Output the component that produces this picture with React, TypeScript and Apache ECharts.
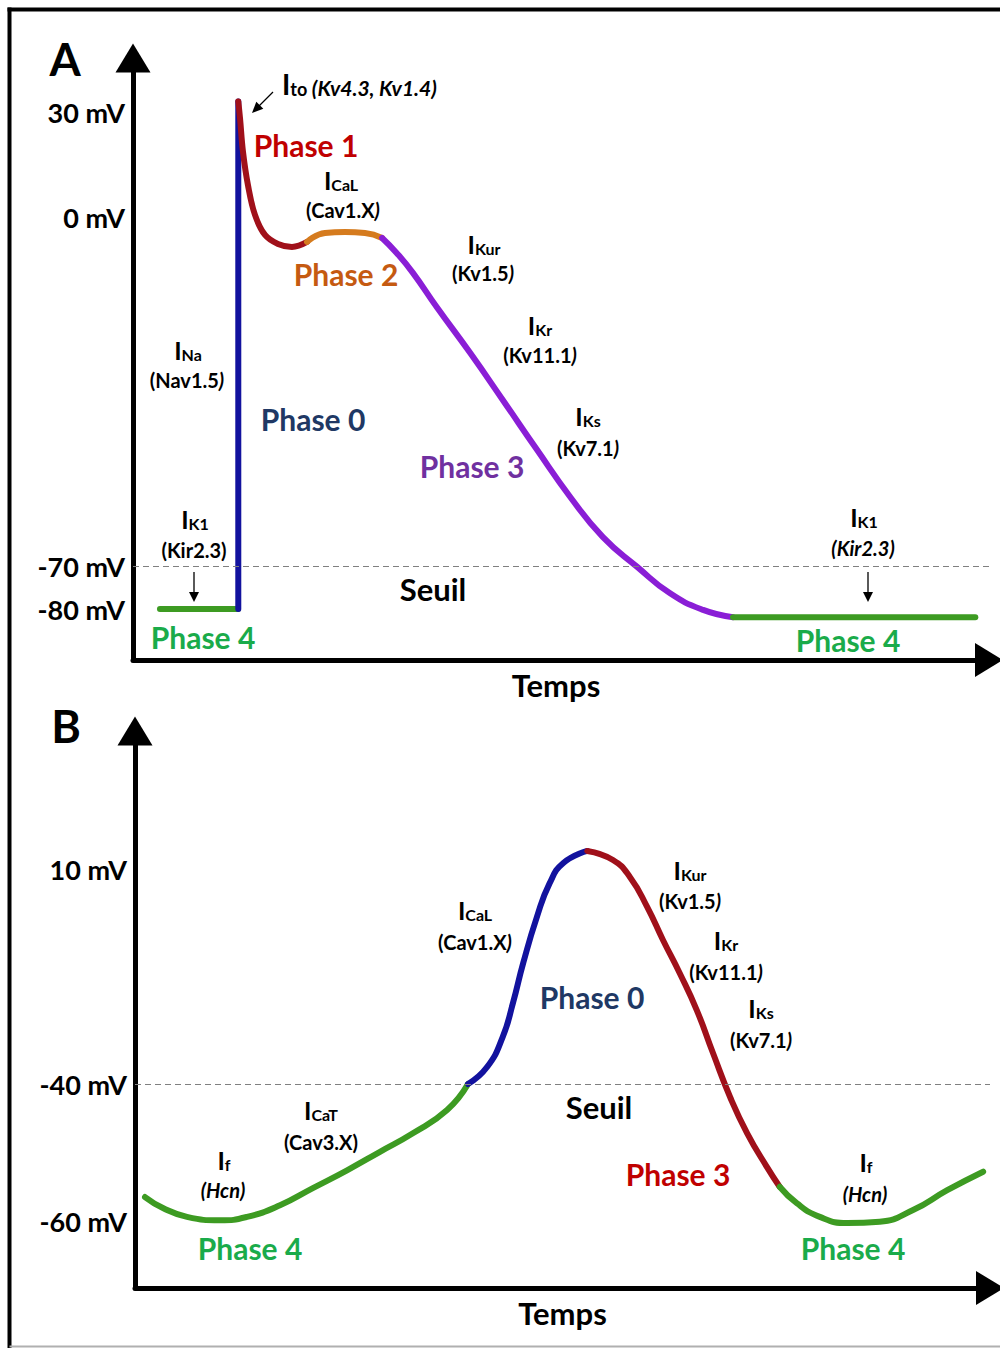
import React, { useEffect, useRef } from 'react';
import * as echarts from 'echarts';

const FONT = 'Lato';

// ---------- Panel A : ventricular action potential ----------
// voltage ticks (the drawing uses a non-linear voltage axis)
const A_TICK_MV = [-80, -70, 0, 30];
const A_TICK_LABELS = ['-80 mV', '-70 mV', '0 mV', '30 mV'];
const A_TICK_LEVEL = [51, 94, 443, 548]; // where each tick sits on the drawn axis scale
const A_LEVEL_MAX = 602;
const A_THRESHOLD_MV = -70;

// [time (a.u.), mV]
const A_PHASE4_LEFT = [[3.15, -80], [12.27, -80]];
const A_PHASE0 = [[12.3, -80], [12.3, 33]];
const A_PHASE1 = [[12.3, 33], [12.5, 28.3], [12.85, 18.6], [13.43, 9.1], [14.25, 0.6], [15.42, -3.6], [16.94, -5.4], [18.57, -6.0], [20.33, -5.0]];
const A_PHASE2 = [[20.33, -5.0], [22.43, -3.2], [24.77, -3.0], [27.1, -3.2], [29.1, -4.2]];
const A_PHASE3 = [[29.1, -4.2], [30.8, -7.2], [32.7, -11.2], [35.5, -18.1], [39.4, -27.3], [43.2, -36.7], [47.2, -46.7], [51.1, -56.2], [54.9, -64.2], [58.9, -70.2], [62.7, -76.3], [66.6, -80.2], [70.1, -81.9]];
const A_PHASE4_RIGHT = [[70.1, -81.9], [98.4, -81.9]];

// ---------- Panel B : nodal (pacemaker) action potential ----------
const B_TICK_MV = [-60, -40, 10];
const B_TICK_LABELS = ['-60 mV', '-40 mV', '10 mV'];
const B_TICK_LEVEL = [67, 204, 419];
const B_LEVEL_MAX = 557;
const B_THRESHOLD_MV = -40;

const B_PHASE4_LEFT = [[1.17, -56.5], [3.27, -58.1], [6.08, -59.4], [9.94, -59.9], [13.1, -59.4], [16.96, -57.7], [20.8, -55.2], [24.8, -52.6], [28.65, -49.9], [32.5, -47.2], [36.5, -43.8], [38.95, -40]];
const B_PHASE0 = [[38.95, -40], [41.2, -36.0], [43.0, -29.1], [44.2, -21.2], [45.4, -11.9], [47.0, -1.2], [48.5, 6.7], [50.1, 11.4], [52.9, 14.2]];
const B_PHASE3 = [[52.9, 14.2], [55.9, 12.1], [57.9, 8.1], [59.9, 1.2], [61.75, -6.5], [63.7, -14.2], [65.7, -22.8], [67.6, -32.8], [69.6, -41.9], [71.6, -47.2], [73.9, -52.1], [75.4, -55.0]];
const B_PHASE4_RIGHT = [[75.4, -55.0], [77.4, -57.4], [80.1, -59.4], [83.3, -60.3], [87.1, -60.1], [91.0, -58.4], [95.0, -55.5], [99.2, -52.8]];

const C = {
  blue: '#12129e',
  red: '#a0101a',
  orange: '#d57b1e',
  purple: '#8a1ed6',
  green: '#3d9b22',
  txtRed: '#c00000',
  txtOrange: '#c55a11',
  txtNavy: '#203864',
  txtPurple: '#7030a0',
  txtGreen: '#1aab4a',
};

const PH = 30; // phase label size

function toLevel(mv: number, ticks: number[], levels: number[]) {
  let i = 0;
  if (mv <= ticks[0]) i = 0;
  else if (mv >= ticks[ticks.length - 1]) i = ticks.length - 2;
  else {
    while (mv > ticks[i + 1]) i++;
  }
  const t0 = ticks[i], t1 = ticks[i + 1];
  return levels[i] + ((mv - t0) * (levels[i + 1] - levels[i])) / (t1 - t0);
}

function lineSeries(data: number[][], color: string, idx: number, ticks: number[], levels: number[], extra: any = {}) {
  return {
    type: 'line',
    xAxisIndex: idx,
    yAxisIndex: idx,
    data: data.map(([t, mv]) => [t, toLevel(mv, ticks, levels)]),
    smooth: 0.5,
    symbol: 'none',
    showSymbol: false,
    silent: true,
    lineStyle: { color, width: 6, cap: 'round', join: 'round' },
    ...extra,
  };
}

function threshold(mv: number, ticks: number[], levels: number[]) {
  return {
    silent: true,
    symbol: ['none', 'none'],
    label: { show: false },
    lineStyle: { color: '#808080', width: 1, type: [6, 4] },
    data: [{ yAxis: toLevel(mv, ticks, levels) }],
  };
}

function xAxisDef(gridIndex: number, shiftPad: number) {
  return {
    gridIndex,
    type: 'value',
    min: 0,
    max: 100,
    name: 'Temps',
    nameLocation: 'middle',
    nameGap: 9,
    nameTextStyle: { fontSize: 31, fontWeight: 'bold', color: '#000', fontFamily: FONT, verticalAlign: 'top', padding: [0, shiftPad, 0, 0] },
    axisLine: { show: true, lineStyle: { color: '#000', width: 5 }, symbol: ['none', 'triangle'], symbolSize: [34, 28] },
    axisTick: { show: false },
    axisLabel: { show: false },
    splitLine: { show: false },
  };
}

function yAxisDef(gridIndex: number, ticks: number[], labels: string[], levels: number[], max: number) {
  const vals = ticks.map((mv) => toLevel(mv, ticks, levels));
  return {
    gridIndex,
    type: 'value',
    min: 0,
    max,
    axisLine: { show: true, lineStyle: { color: '#000', width: 5 }, symbol: ['none', 'triangle'], symbolSize: [35, 29] },
    axisTick: { show: false },
    splitLine: { show: false },
    axisLabel: {
      show: true,
      customValues: vals,
      margin: 8,
      fontSize: 27,
      fontWeight: 'bold',
      color: '#000',
      fontFamily: FONT,
      formatter: (v: number) => {
        const i = vals.findIndex((l) => Math.abs(l - v) < 0.5);
        return i >= 0 ? labels[i] : '';
      },
    },
  };
}

const base = { fontFamily: FONT, fontWeight: 'bold', fill: '#000' };

function txt(x: number, y: number, text: string, fontSize: number, fill = '#000') {
  return {
    type: 'text', x, y, z: 50, silent: true,
    style: { ...base, text, fontSize, fill, align: 'center', verticalAlign: 'middle' },
  };
}

function chan(x: number, y: number, sub: string, big = 25, small = 16) {
  return {
    type: 'text', x, y, z: 50, silent: true,
    style: {
      text: `{a|I}{b|${sub}}`,
      align: 'center',
      verticalAlign: 'middle',
      rich: {
        a: { ...base, fontSize: big, lineHeight: big, verticalAlign: 'bottom' },
        b: { ...base, fontSize: small, lineHeight: small + 1, verticalAlign: 'bottom' },
      },
    },
  };
}

// gene label: regular part + italic part
function gene(x: number, y: number, reg: string, ital: string, size = 20) {
  const parts = [];
  if (reg) parts.push(`{r|${reg}}`);
  if (ital) parts.push(`{i|${ital}}`);
  return {
    type: 'text', x, y, z: 50, silent: true,
    style: {
      text: parts.join(''),
      align: 'center',
      verticalAlign: 'middle',
      rich: {
        r: { ...base, fontSize: size },
        i: { ...base, fontSize: size, fontStyle: 'italic' },
      },
    },
  };
}

function downArrow(x: number, y1: number, y2: number) {
  return [
    { type: 'line', z: 50, silent: true, shape: { x1: x, y1, x2: x, y2: y2 - 9 }, style: { stroke: '#000', lineWidth: 1.3 } },
    { type: 'polygon', z: 50, silent: true, shape: { points: [[x, y2], [x - 5, y2 - 10], [x + 5, y2 - 10]] }, style: { fill: '#000' } },
  ];
}

export default function App() {
  const ref = useRef<HTMLDivElement>(null);

  useEffect(() => {
    if (!ref.current) return;
    const chart = echarts.init(ref.current, null, { renderer: 'svg' });

    const graphics: any[] = [
      // frame
      { type: 'line', silent: true, shape: { x1: 7.5, y1: 9.5, x2: 1000, y2: 9.5 }, style: { stroke: '#000', lineWidth: 4 } },
      { type: 'line', silent: true, shape: { x1: 9.5, y1: 7.5, x2: 9.5, y2: 1348 }, style: { stroke: '#000', lineWidth: 4 } },
      { type: 'line', silent: true, shape: { x1: 9.5, y1: 1346.5, x2: 1000, y2: 1346.5 }, style: { stroke: '#b0b0b0', lineWidth: 2 } },
      txt(65, 59, 'A', 45),
      txt(66, 726, 'B', 45),

      // Panel A annotations
      {
        type: 'text', x: 282, y: 84, z: 50, silent: true,
        style: {
          text: '{a|I}{b|to}{i| (Kv4.3, Kv1.4)}',
          align: 'left', verticalAlign: 'middle',
          rich: {
            a: { ...base, fontSize: 28, lineHeight: 28, verticalAlign: 'bottom' },
            b: { ...base, fontSize: 18, lineHeight: 20, verticalAlign: 'bottom' },
            i: { ...base, fontSize: 21, lineHeight: 23, fontStyle: 'italic', verticalAlign: 'bottom' },
          },
        },
      },
      { type: 'line', z: 50, silent: true, shape: { x1: 273, y1: 92, x2: 258, y2: 107 }, style: { stroke: '#000', lineWidth: 1.3 } },
      { type: 'polygon', z: 50, silent: true, shape: { points: [[252, 113], [263.3, 108.7], [256.3, 101.7]] }, style: { fill: '#000' } },
      txt(306, 145, 'Phase 1', PH, C.txtRed),
      chan(341, 180, 'CaL'),
      gene(343, 210, '(Cav1.X', ')'),
      txt(346, 274, 'Phase 2', PH, C.txtOrange),
      chan(484, 244, 'Kur'),
      gene(483, 273, '(Kv1.5', ')'),
      chan(540, 325, 'Kr'),
      gene(540, 355, '(Kv11.1', ')'),
      chan(588, 416, 'Ks'),
      gene(588, 448, '(Kv7.1', ')'),
      txt(472, 466, 'Phase 3', PH, C.txtPurple),
      txt(313, 419, 'Phase 0', PH, C.txtNavy),
      chan(188, 350, 'Na'),
      gene(187, 380, '(Nav1.5', ')'),
      chan(195, 519, 'K1'),
      gene(194, 550, '(Kir2.3)', ''),
      ...downArrow(194, 572, 602),
      txt(203, 637, 'Phase 4', PH, C.txtGreen),
      txt(433, 589, 'Seuil', 31),
      chan(864, 517, 'K1'),
      gene(863, 548, '', '(Kir2.3)'),
      ...downArrow(868, 572, 602),
      txt(848, 640, 'Phase 4', PH, C.txtGreen),

      // Panel B annotations
      chan(475, 910, 'CaL'),
      gene(475, 942, '(Cav1.X', ')'),
      txt(592, 997, 'Phase 0', PH, C.txtNavy),
      chan(690, 870, 'Kur'),
      gene(690, 901, '(Kv1.5', ')'),
      chan(726, 940, 'Kr'),
      gene(726, 972, '(Kv11.1', ')'),
      chan(761, 1008, 'Ks'),
      gene(761, 1040, '(Kv7.1', ')'),
      txt(599, 1107, 'Seuil', 31),
      txt(678, 1174, 'Phase 3', PH, C.txtRed),
      chan(321, 1110, 'CaT'),
      gene(321, 1142, '(Cav3.X)', ''),
      chan(224, 1160, 'f'),
      gene(223, 1190, '', '(Hcn)'),
      txt(250, 1248, 'Phase 4', PH, C.txtGreen),
      chan(866, 1162, 'f'),
      gene(865, 1194, '', '(Hcn)'),
      txt(853, 1248, 'Phase 4', PH, C.txtGreen),
    ];

    const option: any = {
      animation: false,
      backgroundColor: '#fff',
      grid: [
        { left: 133, top: 58, width: 856, height: 602, containLabel: false },
        { left: 135, top: 731, width: 855, height: 557, containLabel: false },
      ],
      xAxis: [xAxisDef(0, 10), xAxisDef(1, 0)],
      yAxis: [
        yAxisDef(0, A_TICK_MV, A_TICK_LABELS, A_TICK_LEVEL, A_LEVEL_MAX),
        yAxisDef(1, B_TICK_MV, B_TICK_LABELS, B_TICK_LEVEL, B_LEVEL_MAX),
      ],
      series: [
        lineSeries(A_PHASE4_LEFT, C.green, 0, A_TICK_MV, A_TICK_LEVEL, { smooth: false, markLine: threshold(A_THRESHOLD_MV, A_TICK_MV, A_TICK_LEVEL) }),
        lineSeries(A_PHASE0, C.blue, 0, A_TICK_MV, A_TICK_LEVEL, { smooth: false }),
        lineSeries(A_PHASE1, C.red, 0, A_TICK_MV, A_TICK_LEVEL, { smooth: 0.4 }),
        lineSeries(A_PHASE2, C.orange, 0, A_TICK_MV, A_TICK_LEVEL),
        lineSeries(A_PHASE3, C.purple, 0, A_TICK_MV, A_TICK_LEVEL),
        lineSeries(A_PHASE4_RIGHT, C.green, 0, A_TICK_MV, A_TICK_LEVEL, { smooth: false }),
        lineSeries(B_PHASE4_LEFT, C.green, 1, B_TICK_MV, B_TICK_LEVEL, { markLine: threshold(B_THRESHOLD_MV, B_TICK_MV, B_TICK_LEVEL) }),
        lineSeries(B_PHASE0, C.blue, 1, B_TICK_MV, B_TICK_LEVEL),
        lineSeries(B_PHASE3, C.red, 1, B_TICK_MV, B_TICK_LEVEL),
        lineSeries(B_PHASE4_RIGHT, C.green, 1, B_TICK_MV, B_TICK_LEVEL),
      ],
      graphic: graphics,
    };

    chart.setOption(option);
    return () => chart.dispose();
  }, []);

  return <div ref={ref} style={{ position: 'absolute', left: 0, top: 0, width: 1000, height: 1348, background: '#fff' }} />;
}
